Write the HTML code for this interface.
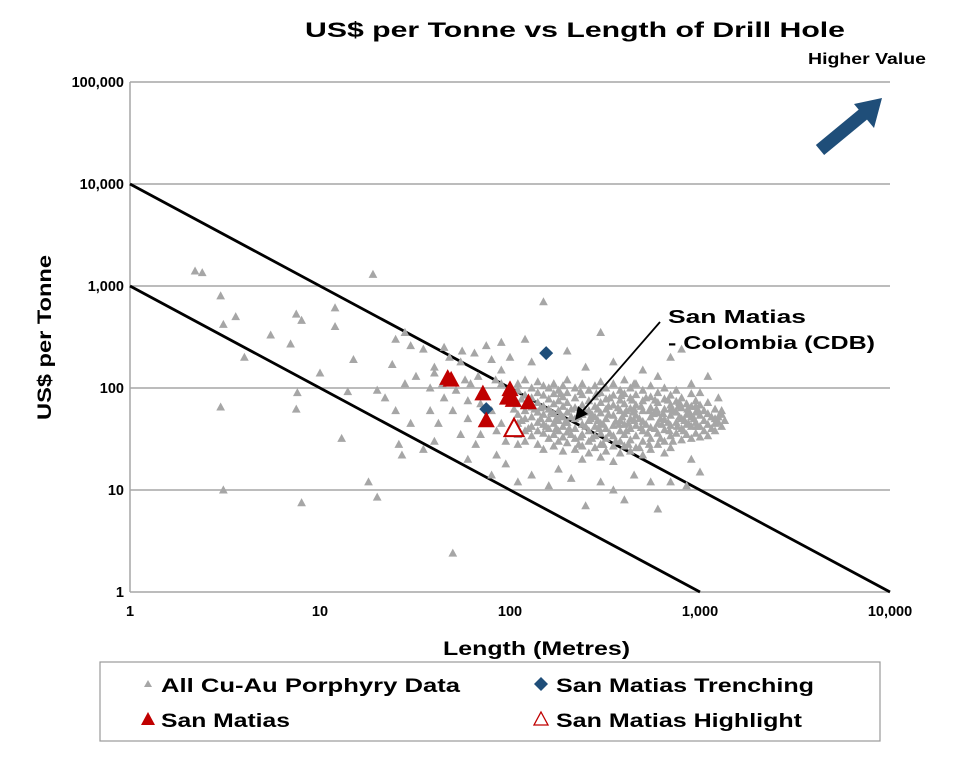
<!DOCTYPE html>
<html><head><meta charset="utf-8"><style>
body{margin:0;background:#fff;font-family:"Liberation Sans",Arial,sans-serif}
svg text{font-family:"Liberation Sans",Arial,sans-serif;font-weight:bold;fill:#000}
</style></head><body>
<svg id="chart" width="980" height="757" viewBox="0 0 980 757" xmlns="http://www.w3.org/2000/svg">
<text x="305" y="37" font-size="21" textLength="540" lengthAdjust="spacingAndGlyphs">US$ per Tonne vs Length of Drill Hole</text>
<text x="808" y="64" font-size="16" textLength="118" lengthAdjust="spacingAndGlyphs">Higher Value</text>
<g>
<line x1="820" y1="150" x2="866" y2="112" stroke="#1f4e79" stroke-width="13"/>
<polygon points="882,98 854,104 874,128" fill="#1f4e79"/>
</g>
<g id="grid"></g>
<g id="axes"></g>
<g id="refs"></g>
<g id="grey"></g>
<g id="trench"></g>
<g id="red"></g>
<g id="hl"></g>
<g>
<line x1="660" y1="322" x2="580" y2="414" stroke="#000" stroke-width="1.8"/>
<polygon points="575,420 578,406 588,414" fill="#000"/>
<text x="668" y="323" font-size="18" textLength="138" lengthAdjust="spacingAndGlyphs">San Matias</text>
<text x="668" y="349" font-size="18" textLength="207" lengthAdjust="spacingAndGlyphs">- Colombia (CDB)</text>
</g>
<text transform="translate(51,420) rotate(-90)" font-size="19" textLength="165" lengthAdjust="spacingAndGlyphs">US$ per Tonne</text>
<text x="443" y="655" font-size="19" textLength="187" lengthAdjust="spacingAndGlyphs">Length (Metres)</text>
<g>
<rect x="100" y="662" width="780" height="79" fill="#fff" stroke="#999" stroke-width="1.2"/>
<g><polygon points="148,680 152,687 144,687" fill="#a6a6a6"/><text x="161" y="692" font-size="19" textLength="299" lengthAdjust="spacingAndGlyphs">All Cu-Au  Porphyry Data</text></g>
<g><polygon points="541,677 548,684 541,691 534,684" fill="#1f4e79"/><text x="556" y="692" font-size="19" textLength="258" lengthAdjust="spacingAndGlyphs">San Matias Trenching</text></g>
<g><polygon points="148,712 155,725 141,725" fill="#c00000"/><text x="161" y="727" font-size="19" textLength="129" lengthAdjust="spacingAndGlyphs">San Matias</text></g>
<g><polygon points="541,712 548,725 534,725" fill="#fff" stroke="#c00000" stroke-width="1.3"/><text x="556" y="727" font-size="19" textLength="246" lengthAdjust="spacingAndGlyphs">San Matias Highlight</text></g>
</g>
</svg>
<script>
const xTicks=[1,10,100,1000,10000];
const xTickLabels=["1","10","100","1,000","10,000"];
const yTicks=[1,10,100,1000,10000,100000];
const yTickLabels=["1","10","100","1,000","10,000","100,000"];
const refLines=[[[1,10000],[10000,1]],[[1,1000],[1000,1]]];
const trenchPoints=[[155,220],[75,62]];
const sanMatiasPoints=[[47,125],[49,120],[72,88],[75,48],[100,97],[97,80],[104,76],[125,72]];
const highlightPoints=[[105,40]];
const greyPoints=[
[2.2,1400],[2.4,1350],[3,800],[3.1,420],[3.6,500],[4,200],[3,65],[3.1,10],[5.5,330],[7,270],[7.5,530],[7.6,90],[8,460],[7.5,62],[8,7.5],[10,140],[12,610],[12,400],[13,32],[14,92],[15,190],[18,12],[19,1300],[20,8.5],[24,170],[25,300],[28,350],[30,260],[35,240],[40,140],[45,250],[50,2.4],[150,700],[300,350],[200,230],[120,300],[500,150],[700,200],[1100,130],[800,240],[1300,60],[1200,45],[900,20],[600,6.5],[550,12],[1000,15],[400,8],[250,7],[110,12],[80,14],[60,20],[40,30],[35,25],[30,45],[25,60],[22,80],[20,95],[28,110],[32,130],[45,80],[50,60],[60,50],[70,35],[55,180],[65,220],[80,190],[90,150],[100,200],[130,180],[26,28],[27,22],[38,60],[42,45],[55,35],[66,28],[85,22],[95,18],[130,14],[160,11],[180,16],[210,13],[300,12],[350,10],[450,14],[700,12],[850,11],[38,100],[44,110],[52,95],[58,120],[62,110],[68,130],[84,120],[90,110],[70,70],[60,75],[80,60],[90,45],[85,38],[95,30],[110,28],[40,160],[48,200],[56,230],[75,260],[90,280],[250,160],[350,180],[450,110],[600,130],[900,110],[1000,90],[1250,80],
[110,110],[110,95],[110,70],[110,55],[110,45],[110,35],[120,120],[120,85],[120,60],[120,50],[120,38],[120,30],[130,100],[130,80],[130,65],[130,52],[130,42],[130,34],[140,115],[140,90],[140,72],[140,58],[140,46],[140,38],[140,28],[150,105],[150,85],[150,66],[150,55],[150,44],[150,36],[150,25],[160,100],[160,78],[160,62],[160,50],[160,40],[160,32],[170,110],[170,88],[170,70],[170,56],[170,45],[170,35],[170,27],[180,95],[180,75],[180,60],[180,48],[180,38],[180,30],[190,105],[190,82],[190,66],[190,52],[190,42],[190,33],[190,24],[200,120],[200,90],[200,72],[200,58],[200,46],[200,37],[200,29],[220,100],[220,80],[220,64],[220,50],[220,40],[220,32],[220,25],[240,110],[240,86],[240,68],[240,55],[240,44],[240,35],[240,27],[240,20],[260,95],[260,75],[260,60],[260,48],[260,38],[260,30],[260,23],[280,105],[280,82],[280,66],[280,52],[280,42],[280,34],[280,26],[300,115],[300,90],[300,72],[300,57],[300,45],[300,36],[300,28],[300,21],[320,100],[320,78],[320,62],[320,50],[320,40],[320,32],[320,24],[350,110],[350,85],[350,68],[350,54],[350,43],[350,34],[350,27],[350,19],[380,95],[380,76],[380,60],[380,48],[380,38],[380,30],[380,23],[400,120],[400,88],[400,70],[400,56],[400,44],[400,35],[400,27],[430,100],[430,80],[430,63],[430,50],[430,40],[430,31],[430,24],[460,110],[460,86],[460,68],[460,54],[460,43],[460,34],[460,26],[500,95],[500,75],[500,60],[500,47],[500,38],[500,30],[500,22],[550,105],[550,82],[550,64],[550,52],[550,41],[550,32],[550,25],[600,90],[600,72],[600,57],[600,45],[600,36],[600,28],[650,100],[650,78],[650,62],[650,49],[650,39],[650,30],[650,23],[700,85],[700,68],[700,54],[700,43],[700,34],[700,26],[750,95],[750,74],[750,58],[750,46],[750,36],[800,80],[800,64],[800,50],[800,40],[800,31],[850,70],[850,55],[850,44],[850,35],[900,88],[900,66],[900,52],[900,42],[900,32],[950,75],[950,58],[950,46],[950,36],[1000,68],[1000,54],[1000,42],[1000,33],[1100,72],[1100,56],[1100,44],[1100,34],[1200,62],[1200,50],[1200,38],[1300,55],[1300,42],[1350,48],
[105,62],[115,48],[125,40],[135,62],[145,50],[155,42],[165,58],[175,40],[185,55],[195,46],[210,62],[230,52],[250,42],[270,55],[290,48],[310,44],[330,55],[360,47],[390,52],[420,45],[445,58],[480,50],[520,44],[570,56],[620,50],[680,46],[720,60],[780,52],[830,48],[880,58],[930,50],[980,60],[1050,48],[1150,52],[1250,46],[210,35],[230,28],[270,32],[310,28],[360,30],[420,28],[480,26],[540,28],[620,32],[720,30],
[115,78],[145,64],[175,50],[205,40],[235,33],[265,50],[295,40],[335,36],[375,44],[410,38],[450,48],[490,41],[530,36],[580,40],[630,44],[690,38],[760,42],[820,38],[870,45],[960,42],[1050,38],[1150,40],[1250,52],[210,52],[250,58],[290,62],[330,66],[370,64],[410,60],[450,62],[490,66],[540,60],[590,62],[640,56],[700,62],[770,66],[860,62],[950,66],[1050,60],[185,88],[235,92],[285,88],[335,80],[385,84],[440,76],[520,80],[580,76],[680,76],[780,72]
];
const X0=130,XD=190,Y0=592,YD=102;
function sx(v){return X0+Math.log10(v)*XD;}
function sy(v){return Y0-Math.log10(v)*YD;}
const NS="http://www.w3.org/2000/svg";
function mk(t,a,p){const e=document.createElementNS(NS,t);for(const k in a)e.setAttribute(k,a[k]);p.appendChild(e);return e;}
const grid=document.getElementById('grid'),axes=document.getElementById('axes');
yTicks.forEach((v,i)=>{
  if(i>0){const l=mk('line',{x1:sx(1),x2:sx(10000),y1:sy(v),y2:sy(v),stroke:'#a6a6a6','stroke-width':1.5},grid);
  
  }
  const t=mk('text',{x:sx(1)-6,y:sy(v)+5,'font-size':14.5,'text-anchor':'end'},axes);t.textContent=yTickLabels[i];
  
  
});
xTicks.forEach((v,i)=>{
  const t=mk('text',{x:sx(v),y:Y0+24,'font-size':14.5,'text-anchor':'middle'},axes);t.textContent=xTickLabels[i];
  
  
});
mk('line',{x1:sx(1),x2:sx(1),y1:sy(100000),y2:sy(1),stroke:'#a6a6a6','stroke-width':1.5},axes);
mk('line',{x1:sx(1),x2:sx(10000),y1:sy(1),y2:sy(1),stroke:'#a6a6a6','stroke-width':1.5},axes);
const refs=document.getElementById('refs');
refLines.forEach(r=>{const l=mk('line',{x1:sx(r[0][0]),y1:sy(r[0][1]),x2:sx(r[1][0]),y2:sy(r[1][1]),stroke:'#000','stroke-width':2.8},refs);
  
  });
function tri(x,y,s,attrs,p){return mk('polygon',Object.assign({points:`${x},${y-s} ${x+s*0.95},${y+s*0.75} ${x-s*0.95},${y+s*0.75}`},attrs),p);}
const g=document.getElementById('grey');
greyPoints.forEach(d=>{const e=tri(sx(d[0]),sy(d[1]),4.6,{fill:'#a6a6a6'},g);
  
  });
const tr=document.getElementById('trench');
trenchPoints.forEach(d=>{const x=sx(d[0]),y=sy(d[1]);const e=mk('polygon',{points:`${x},${y-7} ${x+7},${y} ${x},${y+7} ${x-7},${y}`,fill:'#1f4e79'},tr);
  
  });
const rd=document.getElementById('red');
sanMatiasPoints.forEach(d=>{const e=tri(sx(d[0]),sy(d[1]),9,{fill:'#c00000'},rd);
  
  });
const hl=document.getElementById('hl');
highlightPoints.forEach(d=>{const e=tri(sx(d[0]),sy(d[1]),10,{fill:'#fff',stroke:'#c00000','stroke-width':2},hl);
  
  });
</script>
</body></html>
